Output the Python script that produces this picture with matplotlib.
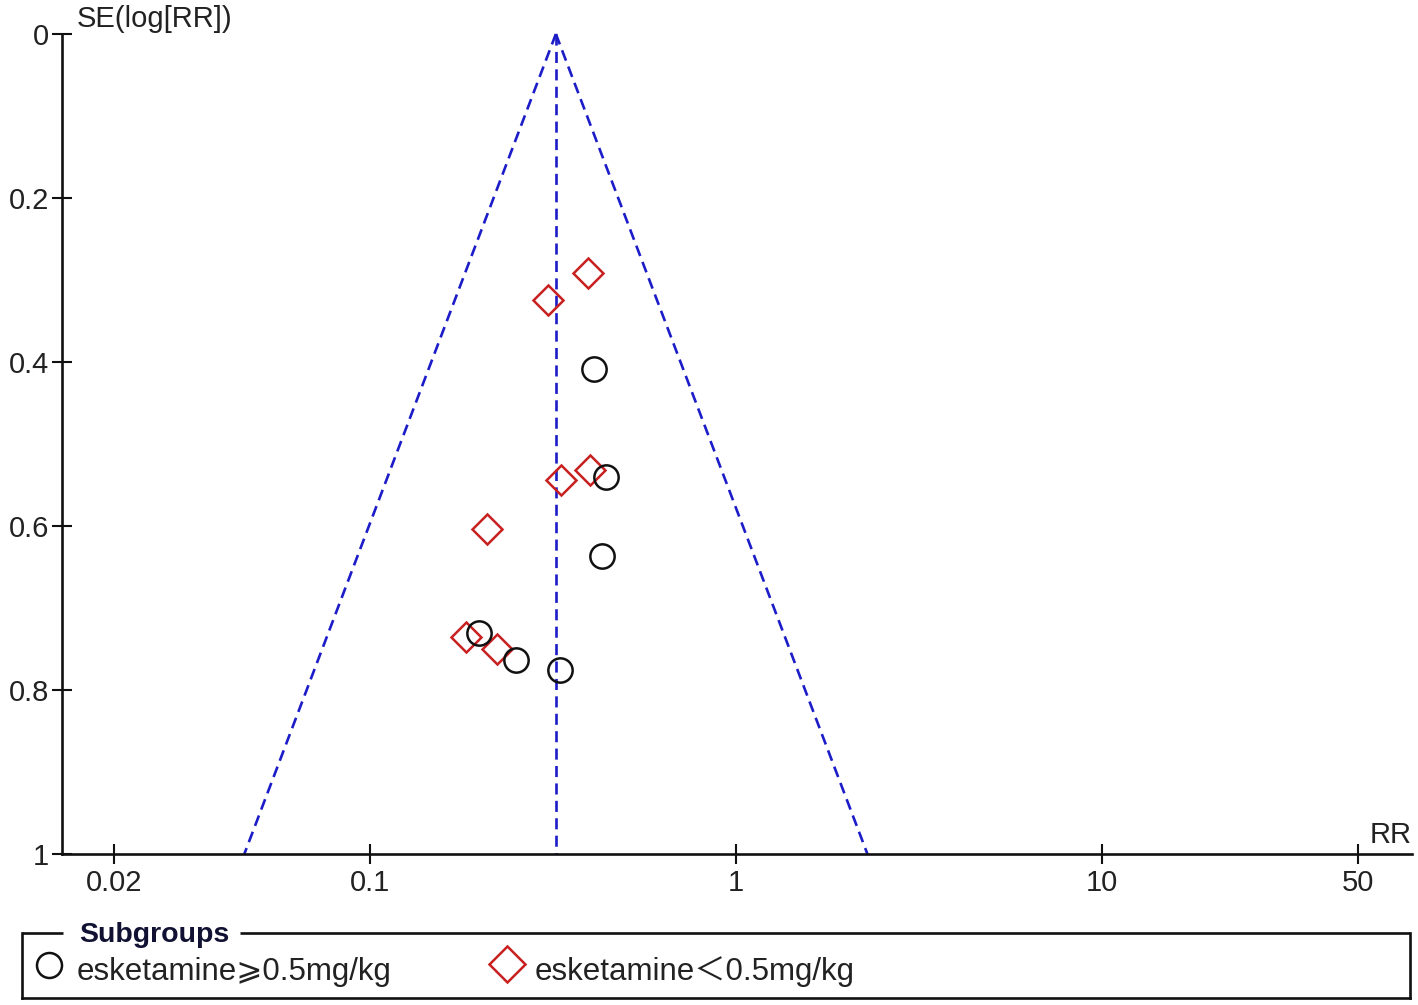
import matplotlib
matplotlib.use('Agg')
import matplotlib.pyplot as plt
import numpy as np

# ---------------- data ----------------
rr_high = [0.409, 0.442, 0.430, 0.199, 0.251, 0.330]
se_high = [0.409, 0.540, 0.637, 0.730, 0.763, 0.775]
rr_low = [0.393, 0.307, 0.400, 0.332, 0.209, 0.183, 0.223]
se_low = [0.291, 0.324, 0.532, 0.544, 0.604, 0.735, 0.750]
pooled_rr = 0.322
x_ticks = [0.02, 0.1, 1, 10, 50]
x_tick_labels = ['0.02', '0.1', '1', '10', '50']
y_ticks = [0, 0.2, 0.4, 0.6, 0.8, 1]
y_tick_labels = ['0', '0.2', '0.4', '0.6', '0.8', '1']
group_labels = ['esketamine\u2a7e0.5mg/kg', 'esketamine\uff1c0.5mg/kg']
legend_title = 'Subgroups'
y_label = 'SE(log[RR])'
x_label = 'RR'

FAM = ['Liberation Sans', 'DejaVu Sans', 'Noto Sans CJK SC']
plt.rcParams['font.family'] = FAM

W, H, DPI = 1418, 1005, 100
fig = plt.figure(figsize=(W / DPI, H / DPI), dpi=DPI)
fig.patch.set_facecolor('white')

# axes placement (pixels)
L, R, T, B = 62, 1412, 34, 854
ax = fig.add_axes([L / W, 1 - B / H, (R - L) / W, (B - T) / H])
ax.set_xscale('log')
ax.set_xlim(0.1 * 10 ** ((L - 370) / 366), 0.1 * 10 ** ((R - 370) / 366))
ax.set_ylim(1, 0)

BLUE = '#1c1cc8'
LW = 1.9
dash = (0, (4.2, 2.4))
# funnel
se_line = np.array([0.0, 1.0])
ax.plot([pooled_rr, pooled_rr], se_line, color=BLUE, lw=LW, ls=dash, clip_on=False)
ax.plot(pooled_rr * np.exp(-1.96 * se_line), se_line, color=BLUE, lw=LW, ls=dash, clip_on=False)
ax.plot(pooled_rr * np.exp(1.96 * se_line), se_line, color=BLUE, lw=LW, ls=dash, clip_on=False)

# points
ax.plot(rr_low, se_low, ls='none', marker='D', ms=15.5, mfc='none', mec='#c82020', mew=1.8, zorder=3)
ax.plot(rr_high, se_high, ls='none', marker='o', ms=17.5, mfc='none', mec='#111111', mew=1.8, zorder=4)

# spines / ticks
for s in ['top', 'right']:
    ax.spines[s].set_visible(False)
for s in ['left', 'bottom']:
    ax.spines[s].set_linewidth(1.9)
    ax.spines[s].set_color('#111111')
ax.set_xticks(x_ticks)
ax.set_xticklabels(x_tick_labels)
ax.xaxis.set_minor_locator(matplotlib.ticker.NullLocator())
ax.set_yticks(y_ticks)
ax.set_yticklabels(y_tick_labels)
ax.tick_params(axis='both', direction='inout', length=15, width=1.5, color='#111111',
               labelsize=21, labelcolor='#222222')
ax.tick_params(axis='x', pad=3)
ax.tick_params(axis='y', pad=2)

fig.text(77 / W, 1 - 27 / H, y_label, fontsize=21, color='#222222', ha='left', va='baseline')
fig.text(1412 / W, 1 - 843 / H, x_label, fontsize=21, color='#222222', ha='right', va='baseline')

# ---------------- legend box ----------------
LL, LR, LT, LB = 22, 1410, 933, 998
lax = fig.add_axes([LL / W, 1 - LB / H, (LR - LL) / W, (LB - LT) / H])
lax.set_xlim(0, 1)
lax.set_ylim(0, 1)
lax.set_xticks([])
lax.set_yticks([])
lax.patch.set_alpha(0)
lax.spines['top'].set_visible(False)
for s in ['left', 'right', 'bottom']:
    lax.spines[s].set_linewidth(1.9)
    lax.spines[s].set_color('#111111')
gap0 = (63 - LL) / (LR - LL)
gap1 = (240 - LL) / (LR - LL)
lax.plot([0, gap0], [1, 1], color='#111111', lw=1.9, clip_on=False, solid_capstyle='butt')
lax.plot([gap1, 1], [1, 1], color='#111111', lw=1.9, clip_on=False, solid_capstyle='butt')
lax.text((79 - LL) / (LR - LL), (LB - 942) / (LB - LT), legend_title, fontsize=20.5,
         fontweight='bold', color='#111133', ha='left', va='baseline')
lax.plot([(49 - LL) / (LR - LL)], [(LB - 965) / (LB - LT)], marker='o', ms=18, mfc='none',
         mec='#111111', mew=1.8, ls='none', clip_on=False)
lax.plot([(507 - LL) / (LR - LL)], [(LB - 964) / (LB - LT)], marker='D', ms=18, mfc='none',
         mec='#c82020', mew=1.8, ls='none', clip_on=False)
lax.text((77 - LL) / (LR - LL), (LB - 980) / (LB - LT), group_labels[0], fontsize=22.5,
         color='#222222', ha='left', va='baseline')
lax.text((535 - LL) / (LR - LL), (LB - 980) / (LB - LT), group_labels[1], fontsize=22.5,
         color='#222222', ha='left', va='baseline')

fig.savefig('out.png', dpi=DPI, facecolor='white')
